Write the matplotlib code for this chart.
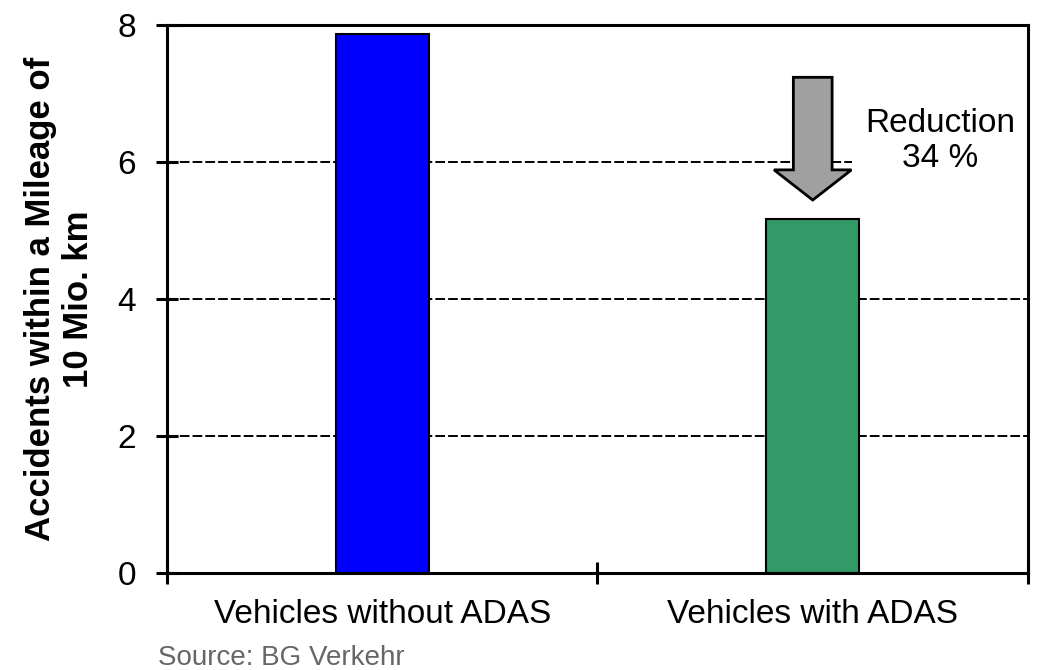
import numpy as np
import matplotlib
matplotlib.use("Agg")
import matplotlib.pyplot as plt
from matplotlib.patches import FancyArrow

plt.rcParams['font.family'] = ['Liberation Sans', 'DejaVu Sans']
plt.rcParams['lines.scale_dashes'] = False

categories = ["Vehicles without ADAS", "Vehicles with ADAS"]
values = [7.86, 5.17]
colors = ["#0000FF", "#339966"]
yticks = [0, 2, 4, 6, 8]

fig = plt.figure(figsize=(10.41, 6.7), dpi=100)
ax = fig.add_axes([0.1604, 0.1448, 0.8271, 0.8186])

x = np.arange(len(categories))
for yv in yticks[1:-1]:
    ax.axhline(yv, color="black", linewidth=1.4, dashes=(7, 2.2), zorder=1)
ax.bar(x, values, width=0.215, color=colors, edgecolor="black", linewidth=1.5, zorder=2)

ax.set_xlim(-0.5, 1.5)
ax.set_ylim(0, 8)
ax.set_yticks(yticks)
ax.set_xticks([-0.5, 0.5, 1.5])
ax.set_xticklabels([])
ax.set_xticks(x, minor=True)
ax.set_xticklabels(categories, minor=True)
ax.tick_params(axis="both", which="major", direction="inout", length=16.5, width=2.2, labelsize=24)
ax.tick_params(axis="x", which="minor", length=0, pad=19, labelsize=24)
ax.tick_params(axis="y", pad=14)
for s in ax.spines.values():
    s.set_linewidth(2.2)
    s.set_zorder(5)

ax.set_ylabel("Accidents within a Mileage of\n10 Mio. km", fontsize=25, fontweight="bold",
              linespacing=1.2, labelpad=16)

# reduction arrow
reduction = round((1 - values[1] / values[0]) * 100)
tip = values[1] + 0.27
ax.add_patch(FancyArrow(1.0, 7.23, 0, -(7.23 - tip), width=0.09, head_width=0.18,
                        head_length=0.44, length_includes_head=True,
                        facecolor="#a0a0a0", edgecolor="black", linewidth=2.0, zorder=3))
ax.text(1.297, 6.3, "Reduction\n%d %%" % reduction, ha="center", va="center",
        fontsize=24, linespacing=1.18, zorder=4,
        bbox=dict(boxstyle="square,pad=0.42", facecolor="white", edgecolor="none"))

fig.text(0.152, 0.018, "Source: BG Verkehr", ha="left", va="center", fontsize=20, color="#666666")

fig.savefig("out.png", dpi=100)
